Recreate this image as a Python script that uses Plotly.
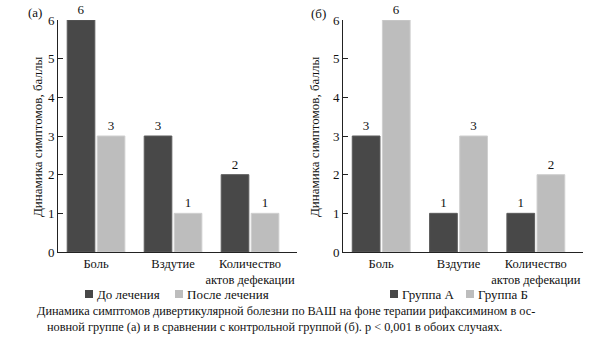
import plotly.graph_objects as go

categories = ["Боль", "Вздутие", "Количество<br>актов дефекации"]
series_a_names = ["До лечения", "После лечения"]
before_vals = [6, 3, 2]
after_vals = [3, 1, 1]
series_b_names = ["Группа А", "Группа Б"]
group_a_vals = [3, 1, 1]
group_b_vals = [6, 3, 2]
y_ticks = [0, 1, 2, 3, 4, 5, 6]
y_title = "Динамика симптомов, баллы"
panel_labels = ["(а)", "(б)"]
caption_lines = [
    "Динамика симптомов дивертикулярной болезни по ВАШ на фоне терапии рифаксимином в ос-",
    "новной группе (а) и в сравнении с контрольной группой (б). p < 0,001 в обоих случаях.",
]

W, H = 605, 340
DARK = "#484848"
LIGHT = "#bdbdbd"
FONT = "Liberation Serif"
TXT = "#111111"
FS = 12.5

def px(x):
    return x / W

def py(y):
    return 1 - y / H

fig = go.Figure()
xs = [0, 1, 2]

for (names, vals_list, xa, ya) in [
    (series_a_names, [before_vals, after_vals], "x", "y"),
    (series_b_names, [group_a_vals, group_b_vals], "x2", "y2"),
]:
    for name, vals, col, edge in zip(names, vals_list, [DARK, LIGHT], ["#5c5c5c", "#cfcfcf"]):
        fig.add_trace(go.Bar(
            x=xs, y=vals, name=name, xaxis=xa, yaxis=ya,
            marker=dict(color=col, line=dict(color=edge, width=1)),
            text=vals, textposition="outside", cliponaxis=False,
            textfont=dict(family=FONT, size=13, color=TXT),
            showlegend=False,
        ))

y_dom = [py(252), py(20)]
axis_common_y = dict(
    range=[0, 6], tickvals=y_ticks, ticks="inside", ticklen=5, tickcolor="#222",
    showline=True, linecolor="#222", linewidth=1, showgrid=False, zeroline=False,
    tickfont=dict(family=FONT, size=13, color=TXT), automargin=False,
)
axis_common_x = dict(
    range=[-0.494, 2.61], tickvals=xs, ticktext=categories, ticks="", tickangle=0,
    showline=True, linecolor="#222", linewidth=1, showgrid=False, zeroline=False,
    tickfont=dict(family=FONT, size=FS, color=TXT), automargin=False,
)

fig.update_layout(
    width=W, height=H,
    margin=dict(l=0, r=0, t=0, b=0, autoexpand=False),
    paper_bgcolor="white", plot_bgcolor="white",
    barmode="group", bargap=0.22, bargroupgap=0.08,
    xaxis=dict(domain=[px(58), px(297)], anchor="y", **axis_common_x),
    yaxis=dict(domain=y_dom, anchor="x", **axis_common_y),
    xaxis2=dict(domain=[px(343), px(583)], anchor="y2", **axis_common_x),
    yaxis2=dict(domain=y_dom, anchor="x2", **axis_common_y),
    showlegend=False,
    font=dict(family=FONT, size=FS, color=TXT),
)

ann = []
shapes = []
# y-axis titles
for xc in [37, 314]:
    ann.append(dict(text=y_title, x=px(xc), y=py(137), xref="paper", yref="paper",
                    textangle=-90, showarrow=False, xanchor="center", yanchor="middle",
                    font=dict(family=FONT, size=13, color=TXT)))
# panel labels
for lab, xc, yc in [(panel_labels[0], 35, 13), (panel_labels[1], 318, 14)]:
    ann.append(dict(text=lab, x=px(xc), y=py(yc), xref="paper", yref="paper",
                    showarrow=False, xanchor="center", yanchor="middle",
                    font=dict(family=FONT, size=13, color=TXT)))

# manual legends
legend_items = [
    (series_a_names[0], DARK, 85),
    (series_a_names[1], LIGHT, 175),
    (series_b_names[0], DARK, 390),
    (series_b_names[1], LIGHT, 466),
]
ly = 294
for name, col, x0 in legend_items:
    shapes.append(dict(type="rect", xref="paper", yref="paper",
                       x0=px(x0), x1=px(x0 + 8), y0=py(ly + 4), y1=py(ly - 4),
                       fillcolor=col, line=dict(width=0)))
    ann.append(dict(text=name, x=px(x0 + 10), y=py(ly), xref="paper", yref="paper",
                    showarrow=False, xanchor="left", yanchor="middle",
                    font=dict(family=FONT, size=13, color=TXT)))

# caption
for line, x0, yc in [(caption_lines[0], 35, 311), (caption_lines[1], 45, 327)]:
    ann.append(dict(text=line, x=px(x0), y=py(yc), xref="paper", yref="paper",
                    showarrow=False, xanchor="left", yanchor="middle",
                    font=dict(family=FONT, size=12.3, color=TXT)))

fig.update_layout(annotations=ann, shapes=shapes)
fig.write_html("out.html")
